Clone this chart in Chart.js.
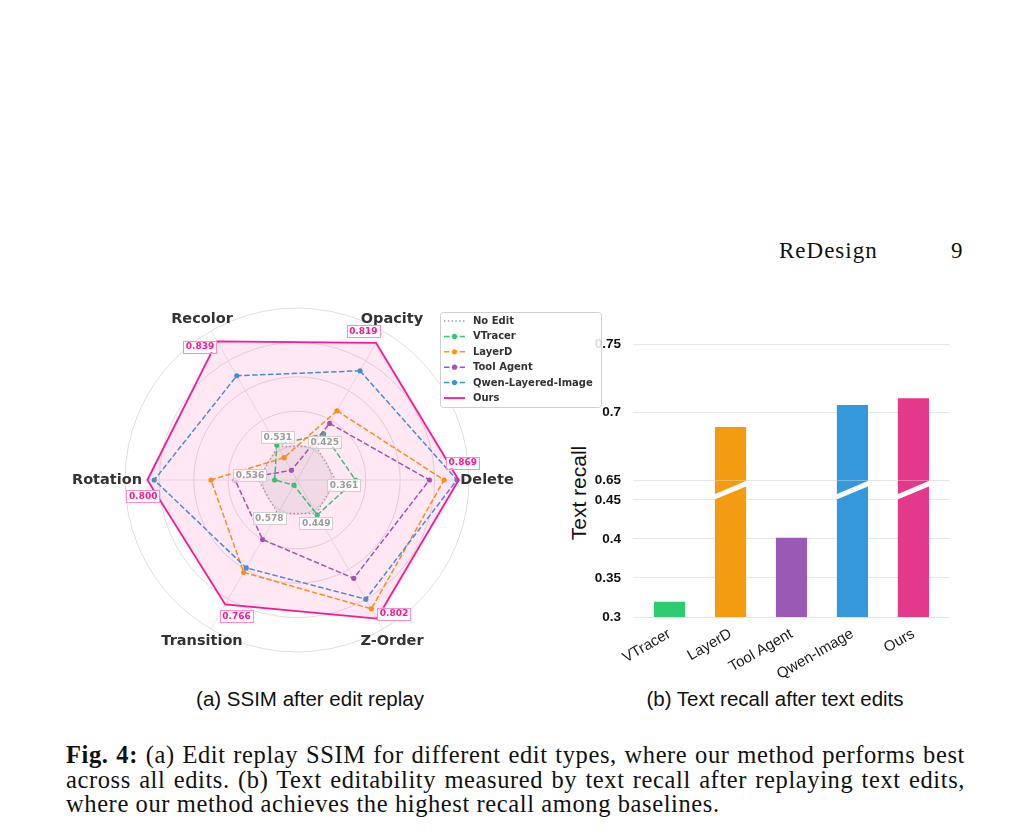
<!DOCTYPE html>
<html><head><meta charset="utf-8">
<script src="https://cdn.jsdelivr.net/npm/chart.js@4.4.1/dist/chart.umd.min.js"></script>
<style>
html,body{margin:0;padding:0;background:#fff;}
body{width:1030px;height:837px;position:relative;overflow:hidden;}
.abs{position:absolute;}
#hdr{left:779px;top:239px;font:23px "Liberation Serif",serif;letter-spacing:1px;color:#111;line-height:24px;white-space:nowrap;}
#pg{left:951px;top:239px;font:23px "Liberation Serif",serif;color:#111;line-height:24px;}
.sub{font:20.5px "Liberation Sans",Arial,sans-serif;color:#111;line-height:22px;white-space:nowrap;text-align:center;width:400px;top:688px;}
#ytitle{font:21px "Liberation Sans",Arial,sans-serif;color:#111;white-space:nowrap;line-height:24px;width:140px;text-align:center;left:509px;top:481px;transform:rotate(-90deg);transform-origin:70px 12px;}
#cap{left:66px;top:743px;width:899px;font:24.5px "Liberation Serif",serif;letter-spacing:0.6px;color:#111;}
.cl{white-space:nowrap;height:24.5px;line-height:24.5px;}
#radar{left:40px;top:290px;z-index:2;}
#bar{left:560px;top:320px;z-index:1;}
</style></head>
<body>
<div id="hdr" class="abs">ReDesign</div>
<div id="pg" class="abs">9</div>
<canvas id="bar" class="abs" width="410" height="370"></canvas>
<canvas id="radar" class="abs" width="570" height="390"></canvas>
<div id="ytitle" class="abs">Text recall</div>
<div class="abs sub" style="left:110px;">(a) SSIM after edit replay</div>
<div class="abs sub" style="left:575px;">(b) Text recall after text edits</div>
<div id="cap" class="abs">
  <div class="cl j"><span><b>Fig. 4:</b> (a) Edit replay SSIM for different edit types, where our method performs best</span></div>
  <div class="cl j"><span>across all edits. (b) Text editability measured by text recall after replaying text edits,</span></div>
  <div class="cl"><span>where our method achieves the highest recall among baselines.</span></div>
</div>
<script>
// ---------- Radar data (axis order clockwise from upper-right) ----------
const radarAxes = ['Opacity', 'Delete', 'Z-Order', 'Transition', 'Rotation', 'Recolor'];
// radial position of each vertex as a fraction of the plot radius
const noEditR    = [0.225, 0.225, 0.225, 0.225, 0.225, 0.225];
const vtracerR   = [0.31, 0.34, 0.235, 0.035, 0.13, 0.235];
const layerdR    = [0.465, 0.855, 0.865, 0.62, 0.50, 0.15];
const toolAgentR = [0.38, 0.77, 0.66, 0.40, 0.36, 0.065];
const qwenR      = [0.733, 0.93, 0.80, 0.59, 0.83, 0.70];
const oursR      = [0.92, 0.94, 0.93, 0.835, 0.87, 0.93];
// SSIM values printed on the chart
const oursSSIM   = [0.819, 0.869, 0.802, 0.766, 0.800, 0.839];
const noEditSSIM = [0.425, 0.361, 0.449, 0.578, 0.536, 0.531];

// ---------- Bar data ----------
const barMethods = ['VTracer', 'LayerD', 'Tool Agent', 'Qwen-Image', 'Ours'];
const textRecall = [0.319, 0.689, 0.401, 0.705, 0.710];
const lowTicks  = [0.3, 0.35, 0.4, 0.45];
const highTicks = [0.65, 0.7, 0.75];
const barColors = ['#2ecc71', '#f39c12', '#9b59b6', '#3498db', '#e4388a'];

// ---------- Radar chart ----------
const seriesNames  = ['No Edit', 'VTracer', 'LayerD', 'Tool Agent', 'Qwen-Layered-Image', 'Ours'];
const seriesData   = [noEditR, vtracerR, layerdR, toolAgentR, qwenR, oursR];
const seriesColors = ['#9a9a9a', '#2ecc71', '#f39c12', '#9b59b6', '#3498db', '#ff1493'];
const seriesDash   = [[1.4, 2.4], [5.5, 2.4], [5.5, 2.4], [5.5, 2.4], [5.5, 2.4], []];
const seriesFill   = ['rgba(128,128,128,0.13)', null, null, null, null, 'rgba(255,20,147,0.10)'];
const seriesPoint  = [0, 2.6, 2.6, 2.6, 2.6, 0];

const DEG = Math.PI / 180;
function boxLabel(ctx, text, x, y, textColor, borderColor, bg) {
  ctx.font = 'bold 9px "DejaVu Sans"';
  const w = ctx.measureText(text).width + 5, h = 11.5;
  ctx.fillStyle = bg;
  ctx.fillRect(x - w / 2, y - h / 2, w, h);
  ctx.lineWidth = 1;
  ctx.strokeStyle = borderColor;
  ctx.strokeRect(Math.round(x - w / 2) + 0.5, Math.round(y - h / 2) + 0.5, Math.round(w), Math.round(h));
  ctx.fillStyle = textColor;
  ctx.textAlign = 'center';
  ctx.textBaseline = 'middle';
  ctx.fillText(text, x, y + 0.5);
}

const radarDecor = {
  id: 'radarDecor',
  afterDatasetsDraw(chart) {
    const ctx = chart.ctx, s = chart.scales.r, R = s.drawingArea;
    ctx.save();
    // axis names
    ctx.font = 'bold 14.5px "DejaVu Sans"';
    ctx.fillStyle = '#333';
    ctx.textAlign = 'center';
    ctx.textBaseline = 'middle';
    radarAxes.forEach((name, i) => {
      const a = s.getIndexAngle(i) - Math.PI / 2;
      ctx.fillText(name, s.xCenter + Math.cos(a) * (R + 18), s.yCenter + Math.sin(a) * (R + 14));
    });
    // No Edit value labels
    noEditSSIM.forEach((v, i) => {
      const a = s.getIndexAngle(i) - Math.PI / 2 + 6 * DEG;
      const d = s.getDistanceFromCenterForValue(noEditR[i]) + 8.5;
      boxLabel(ctx, v.toFixed(3), s.xCenter + Math.cos(a) * d, s.yCenter + Math.sin(a) * d,
        '#9c9c9c', '#cfcfcf', 'rgba(255,255,255,0.8)');
    });
    // Ours value labels
    oursSSIM.forEach((v, i) => {
      const a = s.getIndexAngle(i) - Math.PI / 2 - 6 * DEG;
      const d = s.getDistanceFromCenterForValue(oursR[i]) + 5;
      boxLabel(ctx, v.toFixed(3), s.xCenter + Math.cos(a) * d, s.yCenter + Math.sin(a) * d,
        '#ff1493', '#ff8cc8', '#ffffff');
    });
    // legend
    const lx = 400, ly = 22, lw = 161, lh = 95;
    ctx.fillStyle = 'rgba(255,255,255,0.85)';
    ctx.strokeStyle = '#d0d0d0';
    ctx.lineWidth = 1;
    ctx.beginPath();
    if (ctx.roundRect) ctx.roundRect(lx + 0.5, ly + 0.5, lw, lh, 3); else ctx.rect(lx + 0.5, ly + 0.5, lw, lh);
    ctx.fill(); ctx.stroke();
    chart.data.datasets.forEach((ds, i) => {
      const y = ly + 9 + i * 15.4;
      ctx.save();
      ctx.strokeStyle = ds.borderColor;
      ctx.lineWidth = ds.borderWidth;
      ctx.setLineDash(ds.borderDash || []);
      ctx.beginPath(); ctx.moveTo(lx + 4, y); ctx.lineTo(lx + 25, y); ctx.stroke();
      ctx.restore();
      if (ds.pointRadius > 0) {
        ctx.fillStyle = ds.borderColor;
        ctx.beginPath(); ctx.arc(lx + 14.5, y, ds.pointRadius, 0, Math.PI * 2); ctx.fill();
      }
      ctx.font = 'bold 10px "DejaVu Sans"';
      ctx.fillStyle = '#333';
      ctx.textAlign = 'left';
      ctx.textBaseline = 'middle';
      ctx.fillText(ds.label, lx + 33, y + 0.5);
    });
    ctx.restore();
  }
};

new Chart(document.getElementById('radar'), {
  type: 'radar',
  data: {
    labels: radarAxes,
    datasets: seriesNames.map((name, i) => ({
      label: name,
      data: seriesData[i],
      borderColor: seriesColors[i],
      borderWidth: i === 5 ? 1.8 : (i === 0 ? 1.3 : 1.5),
      borderDash: seriesDash[i],
      backgroundColor: seriesFill[i] || 'rgba(0,0,0,0)',
      fill: !!seriesFill[i],
      pointRadius: seriesPoint[i],
      pointBackgroundColor: seriesColors[i],
      pointBorderWidth: 0,
      pointHoverRadius: seriesPoint[i],
      order: seriesNames.length - 1 - i,
      tension: 0
    }))
  },
  options: {
    responsive: false,
    animation: false,
    events: [],
    layout: { padding: { left: 85, right: 141, top: 18, bottom: 28 } },
    plugins: { legend: { display: false }, tooltip: { enabled: false } },
    scales: {
      r: {
        min: 0, max: 1, startAngle: 30,
        ticks: { display: false, stepSize: 0.2 },
        pointLabels: { display: false },
        grid: { circular: true, color: '#dedede', lineWidth: 1 },
        angleLines: { color: '#e6e6e6', lineWidth: 1 }
      }
    }
  },
  plugins: [radarDecor]
});

// ---------- Broken-axis bar chart ----------
const lowMax = 0.4747;  // top of the lower panel (just above 0.45, the rest is the break gap)
const breakMarks = {
  id: 'breakMarks',
  afterDatasetsDraw(chart) {
    const ctx = chart.ctx;
    const yc = (chart.scales.yHigh.getPixelForValue(highTicks[0]) + chart.scales.yLow.getPixelForValue(lowTicks[lowTicks.length - 1])) / 2;
    const meta = chart.getDatasetMeta(1);
    ctx.save();
    ctx.strokeStyle = '#ffffff';
    ctx.lineWidth = 5;
    meta.data.forEach(el => {
      const half = el.width / 2 + 1;
      ctx.beginPath();
      ctx.moveTo(el.x - half, yc + 6.8);
      ctx.lineTo(el.x + half, yc - 6.8);
      ctx.stroke();
    });
    ctx.restore();
  }
};

const tickFmt = v => String(Math.round(v * 100) / 100);
const yTickFont = { family: '"Liberation Sans", Arial, sans-serif', size: 13.5, weight: 'bold' };
new Chart(document.getElementById('bar'), {
  type: 'bar',
  data: {
    datasets: [
      {
        label: 'lower',
        data: textRecall.map((v, i) => ({ x: i, y: Math.min(v, lowMax) })),
        yAxisID: 'yLow',
        backgroundColor: c => barColors[c.raw.x],
        borderWidth: 0,
        grouped: false,
        barThickness: 30.5
      },
      {
        label: 'upper',
        data: textRecall.map((v, i) => ({ x: i, y: [highTicks[0], v] })).filter(d => d.y[1] > highTicks[0]),
        yAxisID: 'yHigh',
        backgroundColor: c => barColors[c.raw.x],
        borderWidth: 0,
        grouped: false,
        barThickness: 30.5
      }
    ]
  },
  options: {
    responsive: false,
    animation: false,
    events: [],
    layout: { padding: { top: 24, right: 20, left: 0, bottom: 0 } },
    plugins: { legend: { display: false }, tooltip: { enabled: false } },
    scales: {
      x: {
        type: 'linear', min: -0.6, max: 4.6, offset: false,
        grid: { display: false, offset: false },
        border: { display: false },
        afterBuildTicks: s => { s.ticks = barMethods.map((_, i) => ({ value: i })); },
        afterFit: s => { s.height = 73; },
        ticks: {
          autoSkip: false, minRotation: 30, maxRotation: 30, padding: 0,
          color: '#1a1a1a',
          font: { family: '"Liberation Sans", Arial, sans-serif', size: 15 },
          callback: v => barMethods[v] !== undefined ? barMethods[v] : ''
        }
      },
      yLow: {
        type: 'linear', position: 'left', stack: 'brk', stackWeight: 1,
        min: lowTicks[0], max: lowMax,
        afterBuildTicks: s => { s.ticks = lowTicks.map(v => ({ value: v })); },
        afterFit: s => { s.width = 73; },
        grid: { color: '#e6e6e6', drawTicks: false },
        border: { display: false },
        ticks: { padding: 12, color: '#111', font: yTickFont, callback: tickFmt }
      },
      yHigh: {
        type: 'linear', position: 'left', stack: 'brk', stackWeight: 1,
        min: highTicks[0], max: highTicks[highTicks.length - 1],
        afterBuildTicks: s => { s.ticks = highTicks.map(v => ({ value: v })); },
        afterFit: s => { s.width = 73; },
        grid: { color: '#e6e6e6', drawTicks: false },
        border: { display: false },
        ticks: { padding: 12, color: '#111', font: yTickFont, callback: tickFmt }
      }
    }
  },
  plugins: [breakMarks]
});

// ---------- justify caption lines ----------
document.querySelectorAll('#cap .j').forEach(line => {
  const span = line.querySelector('span');
  const txt = span.textContent;
  const spaces = (txt.match(/ /g) || []).length;
  const w = span.getBoundingClientRect().width;
  span.style.wordSpacing = ((899 - w) / spaces) + 'px';
});
</script>
</body></html>
